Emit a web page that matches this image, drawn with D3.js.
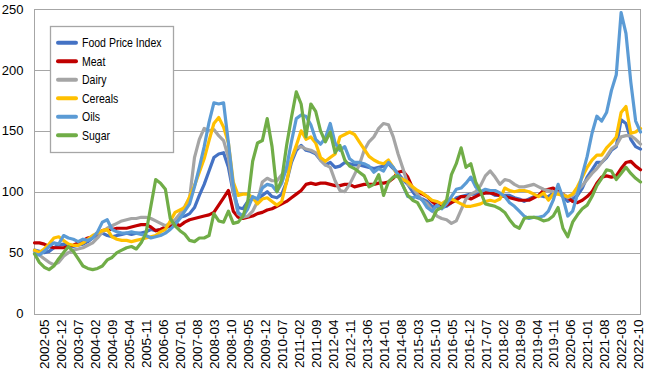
<!DOCTYPE html>
<html>
<head>
<meta charset="utf-8">
<script src="https://cdn.jsdelivr.net/npm/d3@7"></script>
<style>
  html, body { margin: 0; padding: 0; background: #fff; }
  svg { display: block; }
  .axis text { font-family: "Liberation Sans", Arial, sans-serif; fill: #000; }
  .legend text { font-family: "Liberation Sans", Arial, sans-serif; font-size: 13px; fill: #000; }
</style>
</head>
<body>
<svg id="chart" width="648" height="374"></svg>
<script>
// values are read every 2 months: Jan, Mar, May, Jul, Sep, Nov of each year, 2002-01 .. 2022-11
const startYear = 2002;
const monthStep = 2;

const tickLabels = [
  "2002-05", "2002-12", "2003-07", "2004-02", "2004-09", "2005-04", "2005-11", "2006-06",
  "2007-01", "2007-08", "2008-03", "2008-10", "2009-05", "2009-12", "2010-07", "2011-02",
  "2011-09", "2012-04", "2012-11", "2013-06", "2014-01", "2014-08", "2015-03", "2015-10",
  "2016-05", "2016-12", "2017-07", "2018-02", "2018-09", "2019-04", "2019-11", "2020-06",
  "2021-01", "2021-08", "2022-03", "2022-10"
];
const yTicks = [0, 50, 100, 150, 200, 250];

const foodIndex = [
  52, 51, 50, 51, 54, 56,
  57, 56, 55, 56, 57, 59,
  62, 65, 66, 64, 63, 64,
  65, 66, 65, 66, 66, 67,
  69, 68, 69, 70, 72, 76,
  79, 80, 82, 87, 97, 106,
  117, 128, 131, 132, 120, 99,
  87, 86, 92, 94, 94, 97,
  100, 96, 95, 98, 108, 124,
  134, 138, 134, 133, 131, 126,
  122, 124, 120, 121, 124, 123,
  122, 122, 121, 120, 119, 120,
  121, 123, 119, 115, 110, 106,
  100, 95, 94, 92, 88, 88,
  87, 88, 91, 95, 96, 97,
  98, 98, 98, 99, 99, 97,
  97, 97, 97, 95, 94, 92,
  94, 96, 97, 96, 96, 99,
  100, 96, 92, 94, 97, 103,
  112, 118, 124, 124, 128, 134,
  137, 159, 156, 143, 137, 135
];
const meat = [
  58, 58, 57, 55, 54, 54,
  54, 55, 56, 58, 60, 62,
  63, 66, 68, 69, 69, 70,
  70, 70, 71, 72, 73, 73,
  71, 68, 69, 71, 72, 74,
  72, 75, 77, 78, 79, 80,
  81, 83, 89, 95, 101, 84,
  79, 78, 79, 80, 82, 83,
  85, 86, 88, 90, 92, 95,
  98, 101, 106, 107, 106, 107,
  107, 106, 105, 105, 106, 106,
  104, 105, 106, 106, 106, 107,
  107, 108, 111, 116, 117, 112,
  103, 100, 98, 96, 92, 89,
  88, 89, 91, 93, 96, 96,
  94, 96, 98, 99, 99, 98,
  97, 96, 95, 94, 93, 93,
  93, 95, 97, 101, 102, 103,
  100, 98, 95, 92, 91, 93,
  96, 100, 107, 112, 113, 112,
  113, 119, 124, 125, 121, 118
];
const dairy = [
  51, 48, 45, 42, 40, 42,
  47, 50, 52, 53, 54, 56,
  58, 62, 67, 70, 72, 74,
  76, 77, 78, 78, 79, 79,
  78, 76, 74, 72, 74, 77,
  82, 88, 95, 128, 143, 152,
  150, 151, 146, 142, 128, 100,
  82, 79, 80, 84, 92, 108,
  111, 109, 109, 114, 117, 126,
  136, 137, 135, 134, 132, 126,
  122, 120, 109, 101, 100, 106,
  114, 122, 134, 141, 145, 152,
  156, 155, 145, 131, 119, 106,
  103, 98, 93, 90, 85, 80,
  78, 77, 74, 76, 85, 94,
  98, 100, 105, 113, 117, 112,
  106, 110, 109, 106, 104, 104,
  105, 106, 104, 102, 101, 100,
  99, 98, 95, 97, 101, 105,
  110, 115, 119, 124, 129, 135,
  138, 145, 146, 146, 143, 139
];
const cereals = [
  52, 50, 53, 57, 62, 63,
  60, 57, 56, 56, 58, 61,
  64, 66, 68, 69, 63, 61,
  60, 60, 59, 60, 61, 62,
  63, 64, 67, 69, 76, 83,
  85, 87, 96, 105, 116, 127,
  142, 156, 161, 153, 140, 108,
  97, 98, 98, 95, 90, 94,
  95, 92, 89, 92, 108, 127,
  138, 150, 143, 145, 140, 128,
  125, 128, 131, 145, 147, 149,
  147, 141, 135, 129, 126, 124,
  123, 126, 120, 112, 110, 108,
  104, 101, 99, 96, 93, 92,
  90, 93, 94, 92, 90, 88,
  88, 89, 90, 92, 93, 92,
  94, 103, 101, 100, 101, 101,
  100, 98, 96, 99, 93, 98,
  98, 97, 96, 98, 104, 112,
  120, 126, 130, 130, 136, 140,
  145, 165, 170, 148, 149, 152
];
const oils = [
  49, 48, 51, 55, 58, 57,
  64, 62, 61, 59, 61, 60,
  62, 67, 75, 77, 69, 67,
  66, 66, 67, 66, 65, 64,
  62, 63, 64, 66, 69, 73,
  78, 84, 90, 104, 120, 137,
  157, 173, 172, 173, 140, 105,
  83, 80, 86, 96, 94, 103,
  106, 105, 100, 107, 120, 141,
  160, 163, 162, 155, 143, 139,
  144, 156, 140, 134, 137, 127,
  124, 124, 123, 121, 116, 119,
  117, 124, 120, 114, 105, 96,
  95, 96, 93, 87, 84, 89,
  86, 90, 96, 102, 103, 107,
  112, 104, 100, 102, 101, 101,
  99, 96, 91, 88, 84, 80,
  78, 79, 79, 80, 84, 93,
  106, 95, 80, 84, 98, 114,
  129, 148, 162, 158, 165, 183,
  196, 247, 230, 190, 158, 149
];
const sugar = [
  49, 42, 38, 36, 39, 45,
  50, 55, 51, 45, 39, 37,
  36, 37, 39, 44, 46, 50,
  52, 54, 55, 53, 58, 66,
  88, 110, 107, 102, 78, 72,
  68, 65, 60, 59, 62, 62,
  64, 82, 76, 75, 84, 74,
  75, 80, 92, 125, 140, 142,
  160, 137, 100, 110, 138, 161,
  182, 172, 145, 172, 166, 150,
  141, 149, 132, 138, 126, 121,
  119, 116, 113, 104, 106, 114,
  97, 108, 112, 113, 105, 97,
  93, 91, 84, 76, 77, 85,
  87, 93, 114, 123, 136, 120,
  123, 108, 100, 90, 89, 88,
  86, 83, 77, 72, 70, 78,
  79, 79, 78, 76, 77, 80,
  87, 70, 63, 75, 81, 86,
  89, 96, 105, 111, 118, 117,
  110, 115, 120, 115, 111, 108
];

const seriesNames = ["Food Price Index", "Meat", "Dairy", "Cereals", "Oils", "Sugar"];
const seriesValues = [foodIndex, meat, dairy, cereals, oils, sugar];
const seriesColors = ["#4472C4", "#C00000", "#A5A5A5", "#FFC000", "#5B9BD5", "#70AD47"];

// month index counted from 2002-01
const monthIndex = label => {
  const [yr, mo] = label.split("-").map(Number);
  return (yr - startYear) * 12 + mo - 1;
};
const lastMonth = (foodIndex.length - 1) * monthStep;

const svg = d3.select("#chart");
const plotLeft = 34.5, plotRight = 640.5, plotTop = 9, plotBottom = 313.5;

const x = d3.scaleLinear().domain([0, lastMonth]).range([plotLeft, plotRight]);
const y = d3.scaleLinear().domain([0, 250]).range([plotBottom, plotTop]);

// gridlines
svg.append("g")
  .selectAll("line")
  .data(yTicks)
  .enter()
  .append("line")
  .attr("x1", plotLeft)
  .attr("x2", plotRight)
  .attr("y1", d => Math.round(y(d)) + 0.5)
  .attr("y2", d => Math.round(y(d)) + 0.5)
  .attr("stroke", "#a6a6a6")
  .attr("stroke-width", 1);

svg.append("rect")
  .attr("x", plotLeft)
  .attr("y", Math.round(plotTop) + 0.5)
  .attr("width", plotRight - plotLeft)
  .attr("height", Math.round(plotBottom) - Math.round(plotTop))
  .attr("fill", "none")
  .attr("stroke", "#a6a6a6");

// y axis
const yAxis = svg.append("g")
  .attr("class", "axis")
  .attr("transform", `translate(${plotLeft},0)`)
  .call(d3.axisLeft(y).tickValues(yTicks).tickSize(0).tickPadding(11));
yAxis.select(".domain").remove();
yAxis.selectAll("text").style("font-size", "13px");

// x axis with rotated labels
const xAxis = svg.append("g")
  .attr("class", "axis")
  .attr("transform", `translate(0,${plotBottom})`)
  .call(d3.axisBottom(x)
    .tickValues(tickLabels.map(monthIndex))
    .tickFormat((d, i) => tickLabels[i])
    .tickSize(0));
xAxis.select(".domain").remove();
xAxis.selectAll("text")
  .style("font-size", "13.5px")
  .style("text-anchor", "end")
  .attr("x", -6)
  .attr("y", 0)
  .attr("dy", "0.35em")
  .attr("transform", "rotate(-90)");

// lines
const line = d3.line()
  .x((d, i) => x(i * monthStep))
  .y(d => y(d));

svg.append("g")
  .selectAll("path")
  .data(seriesValues)
  .enter()
  .append("path")
  .attr("d", line)
  .attr("fill", "none")
  .attr("stroke", (d, i) => seriesColors[i])
  .attr("stroke-width", 3.2)
  .attr("stroke-linejoin", "round")
  .attr("stroke-linecap", "round");

// legend
const legend = svg.append("g").attr("class", "legend");
legend.append("rect")
  .attr("x", 50.5)
  .attr("y", 26.5)
  .attr("width", 123)
  .attr("height", 126)
  .attr("fill", "#fff")
  .attr("stroke", "#a6a6a6")
  .attr("stroke-width", 1.3);

const item = legend.selectAll("g.item")
  .data(seriesNames)
  .enter()
  .append("g")
  .attr("class", "item")
  .attr("transform", (d, i) => `translate(0,${42.7 + i * 18.5})`);

item.append("line")
  .attr("x1", 58)
  .attr("x2", 76)
  .attr("stroke", (d, i) => seriesColors[i])
  .attr("stroke-width", 4)
  .attr("stroke-linecap", "round");

// legend font in the picture is a narrow face; squeeze a regular one
item.append("text")
  .attr("transform", "translate(82,0) scale(0.81,1)")
  .attr("dy", "0.35em")
  .text(d => d);
</script>
</body>
</html>
